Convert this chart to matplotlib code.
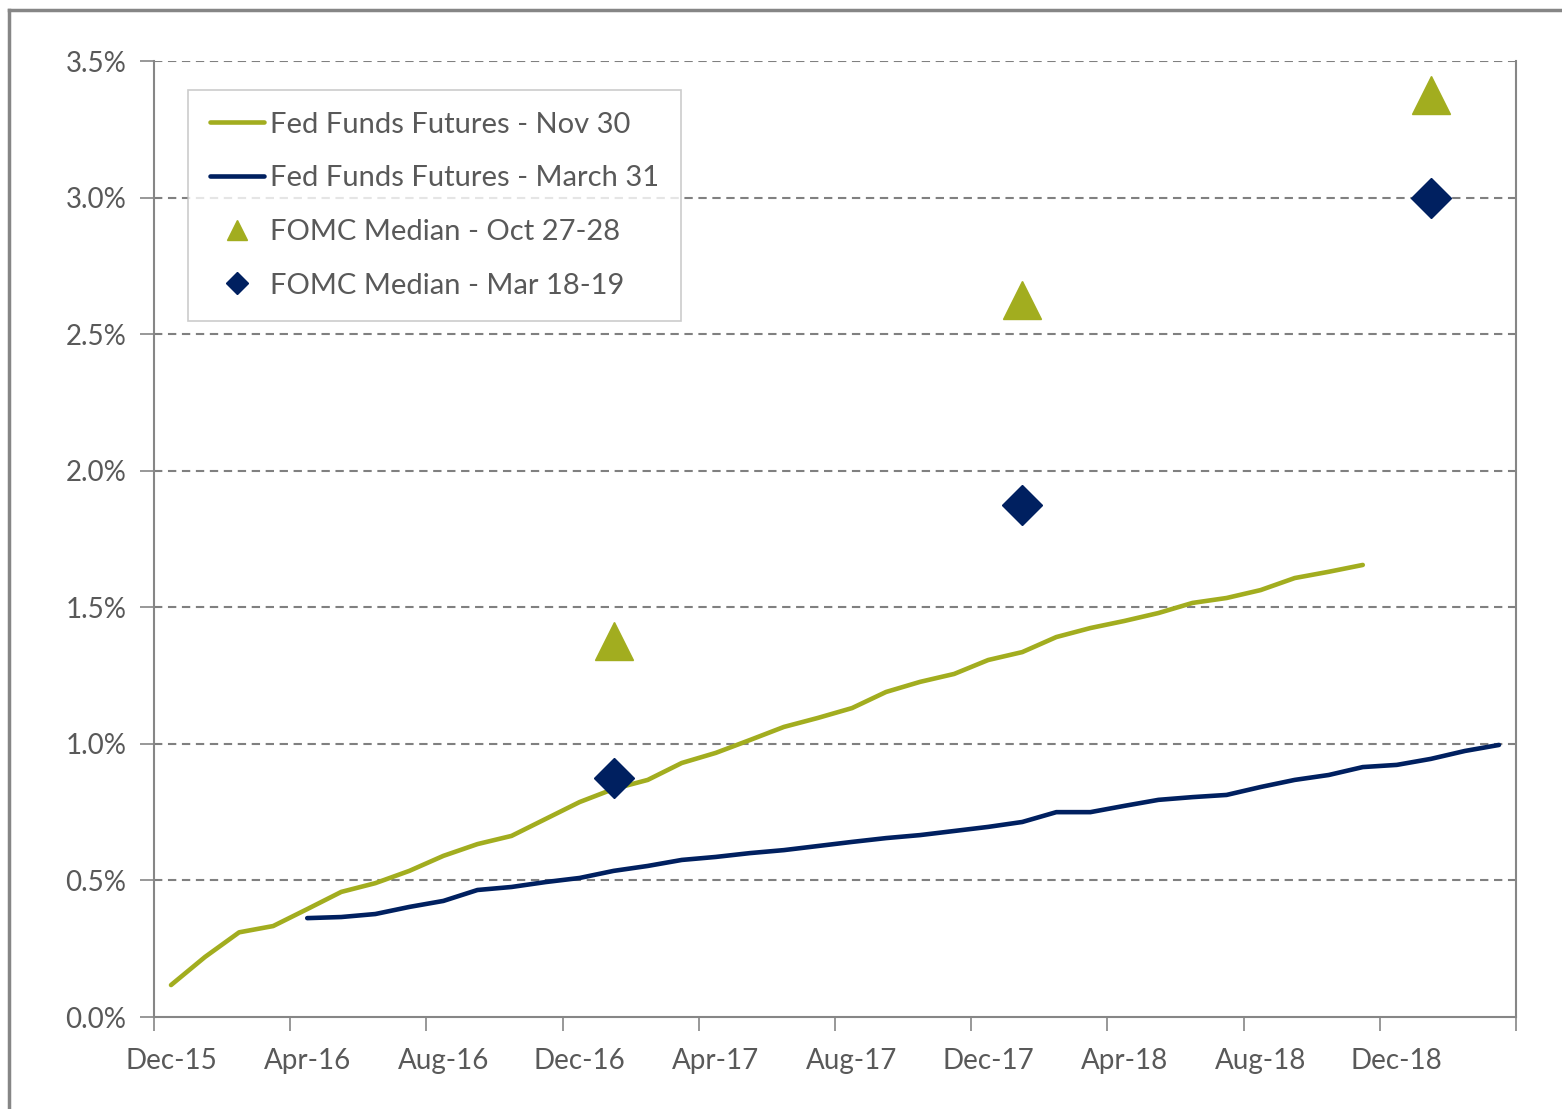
import numpy as np
import matplotlib
matplotlib.use("Agg")
import matplotlib.pyplot as plt
from matplotlib.lines import Line2D
from matplotlib.ticker import FuncFormatter

# --- DATA (monthly, Dec-15 .. Mar-19) ---
months = ["Dec-15", "Jan-16", "Feb-16", "Mar-16", "Apr-16", "May-16", "Jun-16", "Jul-16",
          "Aug-16", "Sep-16", "Oct-16", "Nov-16", "Dec-16", "Jan-17", "Feb-17", "Mar-17",
          "Apr-17", "May-17", "Jun-17", "Jul-17", "Aug-17", "Sep-17", "Oct-17", "Nov-17",
          "Dec-17", "Jan-18", "Feb-18", "Mar-18", "Apr-18", "May-18", "Jun-18", "Jul-18",
          "Aug-18", "Sep-18", "Oct-18", "Nov-18", "Dec-18", "Jan-19", "Feb-19", "Mar-19"]

# Fed funds futures as of Nov 30 (Dec-15 .. Nov-18)
futures_nov30 = [0.117, 0.22, 0.31, 0.333, 0.395, 0.458, 0.49, 0.535, 0.59, 0.633,
                 0.663, 0.725, 0.787, 0.835, 0.868, 0.93, 0.967, 1.014, 1.062, 1.095,
                 1.131, 1.19, 1.227, 1.256, 1.307, 1.336, 1.391, 1.424, 1.45, 1.479,
                 1.516, 1.534, 1.563, 1.607, 1.63, 1.655]

# Fed funds futures as of March 31 (Apr-16 .. Mar-19)
futures_mar31 = [0.362, 0.366, 0.377, 0.403, 0.425, 0.465, 0.476, 0.494, 0.509, 0.535,
                 0.553, 0.575, 0.586, 0.6, 0.611, 0.626, 0.641, 0.655, 0.666, 0.681,
                 0.696, 0.714, 0.75, 0.75, 0.773, 0.795, 0.805, 0.813, 0.842, 0.868,
                 0.886, 0.915, 0.923, 0.945, 0.974, 0.996]

fomc_months = ["Jan-17", "Jan-18", "Jan-19"]
fomc_oct = [1.375, 2.625, 3.375]
fomc_mar = [0.875, 1.875, 3.0]

tick_labels = ["Dec-15", "Apr-16", "Aug-16", "Dec-16", "Apr-17", "Aug-17",
               "Dec-17", "Apr-18", "Aug-18", "Dec-18"]

GREEN = "#A2AD1F"
NAVY = "#002060"
TEXT = "#595959"
AXIS = "#868686"

plt.rcParams["font.family"] = ["Lato", "DejaVu Sans"]

fig = plt.figure(figsize=(15.62, 11.09), dpi=100)
ax = fig.add_axes([154 / 1562, 92 / 1109, 1362 / 1562, 956 / 1109])

idx = {m: i for i, m in enumerate(months)}
x_nov = [idx[m] for m in months[:len(futures_nov30)]]
x_mar = [idx[m] for m in months[4:4 + len(futures_mar31)]]
x_fomc = [idx[m] for m in fomc_months]

ax.plot(x_nov, futures_nov30, color=GREEN, lw=3.3, solid_capstyle="round",
        label="Fed Funds Futures - Nov 30", zorder=3)
ax.plot(x_mar, futures_mar31, color=NAVY, lw=3.3, solid_capstyle="round",
        label="Fed Funds Futures - March 31", zorder=3)
ax.plot(x_fomc, fomc_oct, ls="none", marker="^", ms=27, color=GREEN,
        label="FOMC Median - Oct 27-28", zorder=4)
ax.plot(x_fomc, fomc_mar, ls="none", marker="D", ms=20, color=NAVY,
        label="FOMC Median - Mar 18-19", zorder=4)

# axes
ax.set_xlim(-0.5, len(months) - 0.5)
ax.set_ylim(0, 3.5)
ax.set_yticks(np.arange(0, 3.51, 0.5))
ax.yaxis.set_major_formatter(FuncFormatter(lambda v, p: f"{v:.1f}%"))
ax.set_xticks(np.arange(-0.5, len(months), 4))
ax.set_xticklabels([])
ax.set_xticks([idx[m] for m in tick_labels], minor=True)
ax.set_xticklabels(tick_labels, minor=True)
ax.tick_params(axis="x", which="major", length=10, width=1.2, color=AXIS)
ax.tick_params(axis="x", which="minor", length=0, pad=22, labelsize=20, labelcolor=TEXT)
ax.tick_params(axis="y", length=10, width=1.2, color=AXIS, pad=10, labelsize=20, labelcolor=TEXT)

for v in np.arange(0.5, 3.51, 0.5):
    ax.axhline(v, color="#808080", lw=1.5, ls=(0, (4, 2.7)), zorder=1)

ax.spines["top"].set_visible(False)
for s in ["left", "bottom", "right"]:
    ax.spines[s].set_color(AXIS)
    ax.spines[s].set_linewidth(1.5)

leg = ax.legend(loc="upper left", bbox_to_anchor=(0.025, 0.97), fontsize=21,
                frameon=True, fancybox=False, edgecolor="#BFBFBF", labelcolor=TEXT,
                handlelength=1.85, handletextpad=0.2, labelspacing=0.95,
                borderpad=0.75, borderaxespad=0, markerscale=0.55)
leg.get_frame().set_linewidth(1.2)

# outer chart frame
fig.add_artist(Line2D([9 / 1562, 9 / 1562], [0, 1 - 10 / 1109], color=AXIS, lw=2.5,
                      transform=fig.transFigure))
fig.add_artist(Line2D([9 / 1562, 1], [1 - 10 / 1109, 1 - 10 / 1109], color=AXIS, lw=2.5,
                      transform=fig.transFigure))

fig.savefig("out.png", dpi=100)
